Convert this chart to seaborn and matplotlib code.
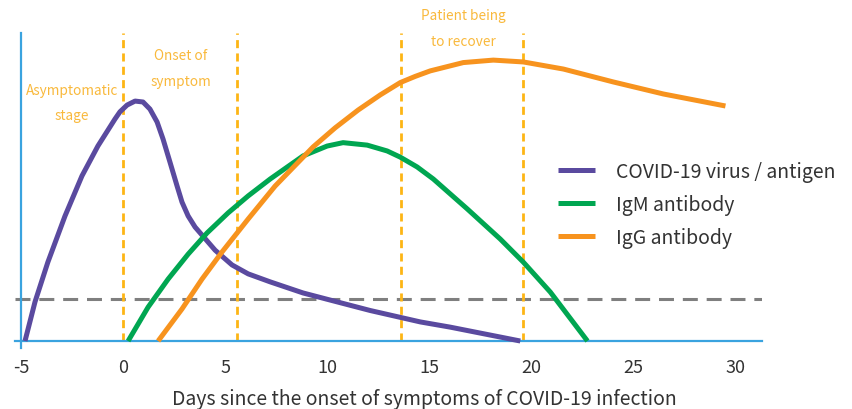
import matplotlib
matplotlib.use("Agg")
import matplotlib.pyplot as plt
import seaborn as sns
import pandas as pd

# ---- data ----
virus_x = [-4.80, -4.31, -3.68, -2.84, -2.01, -1.23, -0.39, -0.15, 0.20, 0.59, 0.98, 1.32,
           1.67, 1.96, 2.30, 2.65, 2.89, 3.19, 3.53, 3.87, 4.51, 5.34, 6.13, 7.21, 8.82,
           10.49, 12.11, 14.56, 16.03, 19.46]
virus_y = [0.0, 12.7, 25.6, 40.6, 53.6, 63.3, 72.1, 74.4, 76.6, 77.9, 77.6, 75.3,
           71.1, 65.6, 58.1, 50.3, 45.1, 40.6, 37.0, 34.4, 29.5, 24.7, 21.8, 19.2, 15.6,
           12.7, 9.9, 6.2, 4.5, 0.0]

igm_x = [0.25, 1.23, 2.21, 3.19, 4.12, 5.15, 6.13, 7.21, 8.82, 10.0, 10.78, 11.96,
         12.94, 13.58, 14.41, 15.20, 16.86, 18.48, 19.61, 20.93, 22.75]
igm_y = [0.0, 11.0, 20.1, 28.2, 35.1, 41.6, 47.1, 52.6, 60.1, 63.3, 64.4, 63.6,
         61.7, 59.7, 56.5, 52.6, 42.9, 33.1, 25.6, 15.9, 0.0]

igg_x = [1.72, 2.89, 3.87, 4.85, 6.13, 7.45, 9.31, 10.39, 11.52, 12.60, 13.58, 14.31,
         15.05, 16.67, 18.14, 19.61, 21.57, 24.02, 26.47, 29.51]
igg_y = [0.0, 10.4, 20.1, 28.9, 39.6, 50.3, 63.0, 69.2, 75.0, 79.9, 83.9, 85.9,
         87.7, 90.4, 91.2, 90.6, 88.3, 84.1, 80.2, 76.3]

series_names = ["COVID-19 virus / antigen", "IgM antibody", "IgG antibody"]
stage_lines = [0.0, 5.6, 13.6, 19.6]
threshold = 13.6
xticks = [-5, 0, 5, 10, 15, 20, 25, 30]
stage_labels = ["Asymptomatic\nstage", "Onset of\nsymptom", "Patient being\nto recover"]
stage_label_x = [-2.5, 2.84, 16.67]
stage_label_y = [77.4, 88.6, 101.6]
xlabel = "Days since the onset of symptoms of COVID-19 infection"

# ---- styling ----
sns.set_style("white")
plt.rcParams['font.family'] = ['Noto Sans CJK KR', 'DejaVu Sans']

purple = "#5A4A9F"
green = "#00A651"
orange = "#F7931E"
gold = "#FDB515"
axis_blue = "#3AA3DF"
gray = "#7F7F7F"
label_orange = "#F9B93C"

df = pd.concat([
    pd.DataFrame({"x": virus_x, "y": virus_y, "series": series_names[0]}),
    pd.DataFrame({"x": igm_x, "y": igm_y, "series": series_names[1]}),
    pd.DataFrame({"x": igg_x, "y": igg_y, "series": series_names[2]}),
])

fig = plt.figure(figsize=(8.53, 4.10), dpi=100)
ax = fig.add_axes([15/853, (410-349)/410, 747/853, (349-34)/410])

sns.lineplot(data=df, x="x", y="y", hue="series", hue_order=series_names,
             palette=[purple, green, orange], linewidth=3.6, ax=ax,
             estimator=None, sort=False, legend=True, zorder=5)
for ln in ax.get_lines():
    ln.set_solid_joinstyle("round")
    ln.set_solid_capstyle("butt")

for xv in stage_lines:
    ax.vlines(xv, 0, 100, colors=gold, linewidth=2.0,
              linestyles=(0, (2.9, 1.9)), zorder=2)
ax.axhline(threshold, color=gray, linewidth=2.2, linestyle=(0, (4.9, 2.9)), zorder=1)

ax.set_xlim(-5.29, 31.3)
ax.set_ylim(-2.27, 100)

for s in ["top", "right"]:
    ax.spines[s].set_visible(False)
ax.spines["left"].set_position(("data", -5))
ax.spines["bottom"].set_position(("data", 0))
for s in ["left", "bottom"]:
    ax.spines[s].set_color(axis_blue)
    ax.spines[s].set_linewidth(1.6)

ax.set_yticks([])
ax.set_xticks(xticks)
ax.set_xticklabels([str(t) for t in xticks])
ax.tick_params(axis="x", length=0, pad=12, labelsize=13, labelcolor="#333333")
ax.set_xlabel(xlabel, fontsize=14, color="#333333", labelpad=9)
ax.xaxis.label.set_x((424 - 15) / 747)
ax.set_ylabel("")

for txt, tx, ty in zip(stage_labels, stage_label_x, stage_label_y):
    ax.text(tx, ty, txt, ha="center", va="center", fontsize=9.8,
            color=label_orange, linespacing=2.05, clip_on=False)

leg = ax.legend(loc="upper left", bbox_to_anchor=(558/853, (410-162)/410),
                bbox_transform=fig.transFigure, frameon=False, fontsize=14,
                handlelength=1.9, handletextpad=1.1, labelspacing=0.62,
                borderpad=0, borderaxespad=0)
for t in leg.get_texts():
    t.set_color("#333333")
for h in leg.get_lines():
    h.set_linewidth(3.6)

fig.savefig("out.png", dpi=100)
